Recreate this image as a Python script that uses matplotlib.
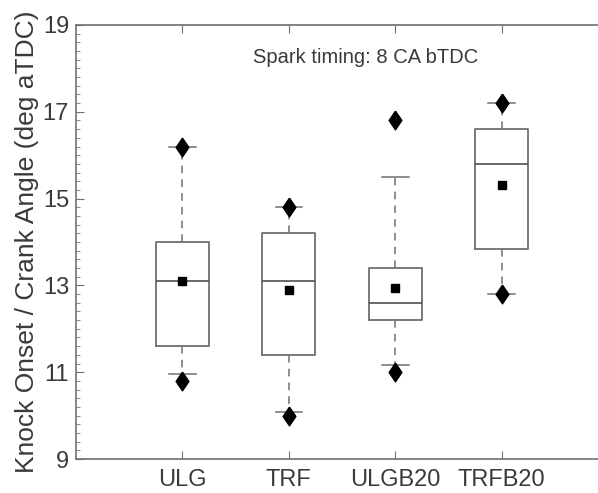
import matplotlib
matplotlib.use('Agg')
from matplotlib import pyplot as plt
from matplotlib.ticker import MultipleLocator

plt.rcParams['font.family'] = ['Liberation Sans', 'DejaVu Sans']

fuels = ['ULG', 'TRF', 'ULGB20', 'TRFB20']
q1 = [11.6, 11.4, 12.2, 13.85]
medians = [13.1, 13.1, 12.6, 15.8]
q3 = [14.0, 14.2, 13.4, 16.6]
whisker_lo = [10.95, 10.08, 11.16, 12.8]
whisker_hi = [16.2, 14.8, 15.5, 17.2]
means = [13.1, 12.9, 12.93, 15.32]
minimum = [10.8, 10.0, 11.0, 12.8]
maximum = [16.2, 14.8, 16.8, 17.2]

grey = '#707070'
text_c = '#3a3a3a'
diamond = [(0, 1), (0.68, 0), (0, -1), (-0.68, 0), (0, 1)]

fig = plt.figure(figsize=(5.98, 4.93), dpi=100)
# axes run past the right edge of the figure, like the cropped original
ax = fig.add_axes([76 / 598, 34 / 493, 532 / 598, 434 / 493])

stats = []
for i, name in enumerate(fuels):
    stats.append({'label': name, 'q1': q1[i], 'med': medians[i], 'q3': q3[i],
                  'whislo': whisker_lo[i], 'whishi': whisker_hi[i],
                  'mean': means[i], 'fliers': []})

pos = list(range(1, len(fuels) + 1))
ax.bxp(stats, positions=pos, widths=0.5, showmeans=False, showfliers=False,
       boxprops=dict(color=grey, linewidth=1.3),
       medianprops=dict(color='#505050', linewidth=1.2),
       whiskerprops=dict(color=grey, linewidth=1.1, linestyle=(0, (5, 4))),
       capprops=dict(color=grey, linewidth=1.1), capwidths=0.25)

ax.plot(pos, means, 's', color='black', markersize=6, zorder=5)
ax.plot(pos, minimum, marker=diamond, ls='none', color='black', markersize=13.5, zorder=5)
ax.plot(pos, maximum, marker=diamond, ls='none', color='black', markersize=13.5, zorder=5)

ax.set_xlim(0, 5)
ax.set_ylim(9, 19)
ax.set_yticks([9, 11, 13, 15, 17, 19])
ax.yaxis.set_minor_locator(MultipleLocator(0.2))
ax.set_xticks(pos)
ax.set_xticklabels(fuels)
ax.tick_params(axis='both', which='both', direction='in', color=grey,
               labelcolor=text_c, labelsize=17, top=True)
ax.tick_params(axis='y', which='major', length=6, pad=5)
ax.tick_params(axis='y', which='minor', length=3)
ax.tick_params(axis='x', which='major', length=6, pad=7)
for s in ax.spines.values():
    s.set_color(grey)
    s.set_linewidth(1.2)

ax.set_ylabel('Knock Onset / Crank Angle (deg aTDC)', fontsize=19,
              color=text_c, labelpad=3)
ax.text(2.72, 18.25, 'Spark timing: 8 CA bTDC', ha='center', va='center',
        fontsize=14.5, color=text_c)

fig.savefig('out.png', dpi=100)
